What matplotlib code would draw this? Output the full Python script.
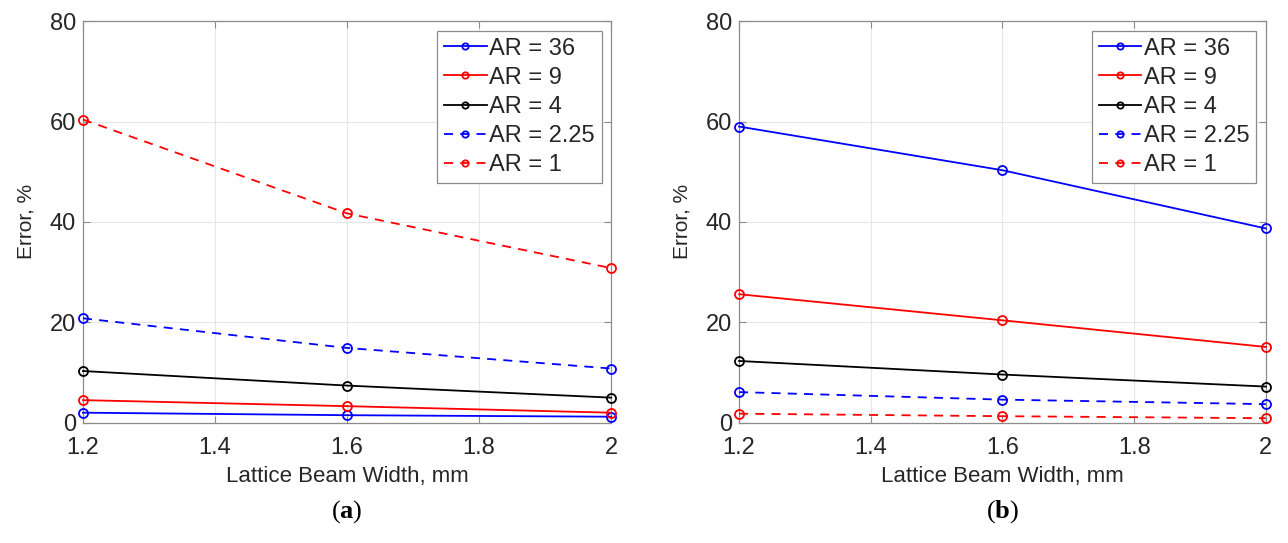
import matplotlib
matplotlib.use("Agg")
import matplotlib.pyplot as plt

# ------------------------------------------------------------------------------------------
# data: error vs lattice beam width for each aspect ratio
beam_width = [1.2, 1.6, 2.0]
list_labels = ["AR = 36", "AR = 9", "AR = 4", "AR = 2.25", "AR = 1"]
list_colors = ["#0000ff", "#ff0000", "#000000", "#0000ff", "#ff0000"]
list_styles = ["-", "-", "-", "--", "--"]

error_a_ar36 = [2.0, 1.5, 1.2]
error_a_ar9 = [4.5, 3.3, 2.0]
error_a_ar4 = [10.3, 7.4, 5.0]
error_a_ar225 = [20.8, 14.9, 10.8]
error_a_ar1 = [60.4, 41.7, 30.8]

error_b_ar36 = [59.0, 50.3, 38.7]
error_b_ar9 = [25.6, 20.4, 15.1]
error_b_ar4 = [12.3, 9.6, 7.2]
error_b_ar225 = [6.1, 4.6, 3.7]
error_b_ar1 = [1.8, 1.3, 0.9]

x_ticks = [1.2, 1.4, 1.6, 1.8, 2.0]
x_ticklabels = ["1.2", "1.4", "1.6", "1.8", "2"]
y_ticks = [0, 20, 40, 60, 80]

panels = [
    ("a", [error_a_ar36, error_a_ar9, error_a_ar4, error_a_ar225, error_a_ar1]),
    ("b", [error_b_ar36, error_b_ar9, error_b_ar4, error_b_ar225, error_b_ar1]),
]

# ------------------------------------------------------------------------------------------
plt.rcParams.update({
    "font.family": ["Liberation Sans", "DejaVu Sans"],
    "mathtext.fontset": "custom",
    "mathtext.rm": "Liberation Serif",
    "mathtext.bf": "Liberation Serif:bold",
})

axis_gray = "#8c8c8c"
text_gray = "#262626"

fig = plt.figure(figsize=(12.88, 5.43), dpi=100)
axes_pos = [[0.0644, 0.2215, 0.410, 0.7396], [0.5738, 0.2215, 0.409, 0.7396]]

for (panel_name, list_series), pos in zip(panels, axes_pos):
    ax = fig.add_axes(pos)

    for crrt_values, crrt_label, crrt_color, crrt_style in zip(list_series, list_labels, list_colors, list_styles):
        line, = ax.plot(beam_width, crrt_values, color=crrt_color, linestyle=crrt_style, linewidth=1.3,
                        marker="o", markersize=6.5, markerfacecolor="none", markeredgewidth=1.3,
                        label=crrt_label, clip_on=False, zorder=3)
        if crrt_style == "--":
            line.set_dashes((5, 4))

    ax.set_xlim(1.2, 2.0)
    ax.set_ylim(0, 80)
    ax.set_xticks(x_ticks)
    ax.set_xticklabels(x_ticklabels)
    ax.set_yticks(y_ticks)
    ax.grid(True, color="#e6e6e6", linewidth=0.8)
    ax.set_axisbelow(True)

    for spine in ax.spines.values():
        spine.set_color(axis_gray)
        spine.set_linewidth(0.9)
    ax.tick_params(direction="in", top=True, right=True, length=5, width=0.8, color=axis_gray,
                   labelsize=17, labelcolor=text_gray)
    ax.tick_params(axis="x", pad=10)
    ax.tick_params(axis="y", pad=5)

    ax.set_xlabel("Lattice Beam Width, mm", fontsize=16, color=text_gray)
    ax.set_ylabel("Error, %", fontsize=15, color=text_gray)
    ax.xaxis.set_label_coords(0.5, -0.1327)
    ax.xaxis.label.set_va("center")
    ax.yaxis.set_label_coords(-0.108, 0.5)
    ax.yaxis.label.set_va("center")

    leg = ax.legend(loc="upper right", fontsize=17, handlelength=1.8, handletextpad=0.1,
                    borderpad=0.3, labelspacing=0.3, borderaxespad=0.4, fancybox=False,
                    framealpha=1.0, markerscale=0.7)
    leg.get_frame().set_edgecolor(axis_gray)
    leg.get_frame().set_linewidth(0.9)
    for txt in leg.get_texts():
        txt.set_color(text_gray)

    ax.text(0.5, -0.222, r"$\mathrm{(}\mathbf{" + panel_name + r"}\mathrm{)}$", transform=ax.transAxes,
            ha="center", va="center", fontsize=19, color="black")

plt.savefig("out.png", dpi=100)
